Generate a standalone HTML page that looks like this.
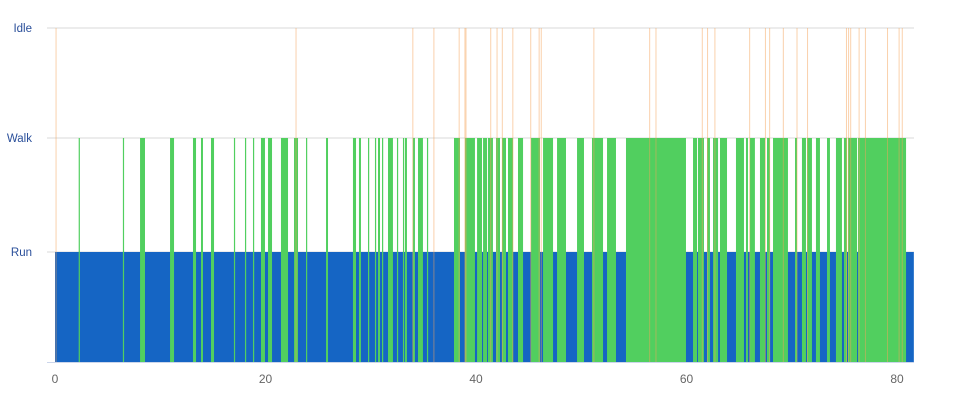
<!DOCTYPE html>
<html><head><meta charset="utf-8"><style>
html,body{margin:0;padding:0;background:#fff;width:956px;height:402px;overflow:hidden}
svg{display:block;font-family:"Liberation Sans",sans-serif}
</style></head><body>
<svg id="chart" width="956" height="402" viewBox="0 0 956 402" xmlns="http://www.w3.org/2000/svg">
<g id="grid"></g>
<g id="marks"></g>
<g id="axes"></g>
</svg>
<script>
const stateLabels = ["Run","Walk","Idle"];
const stateLevels = [1,2,3];
const xTicks = [0,20,40,60,80];
const runRange = [0,81.6];
const walkStarts = [2.25,6.45,8.08,10.93,13.11,13.87,14.82,17.0,18.05,18.81,19.57,20.24,21.47,22.71,23.85,25.75,28.31,28.88,29.74,30.4,30.69,31.07,31.64,32.49,33.06,33.25,34.0,34.49,35.34,37.91,38.95,40.1,40.67,41.14,41.9,42.47,43.04,43.99,45.23,46.37,47.7,49.6,51.02,52.45,54.25,60.62,61.09,61.95,62.52,63.18,64.7,65.65,66.03,66.98,67.65,68.22,70.31,70.97,71.45,72.3,73.35,74.2,74.96,75.34,76.29];
const walkEnds   = [2.35,6.55,8.55,11.31,13.40,14.06,15.11,17.1,18.15,18.91,19.95,20.62,22.14,23.09,23.95,25.94,28.6,29.07,29.83,30.5,30.88,31.16,32.11,32.59,33.16,33.44,34.2,34.96,35.44,38.48,39.9,40.57,41.05,41.61,42.28,42.85,43.52,44.47,46.08,47.32,48.55,50.26,52.07,53.3,59.95,61.0,61.66,62.23,63.0,63.85,65.46,65.84,66.5,67.46,67.93,69.64,70.5,71.35,71.92,72.68,73.63,74.77,75.25,76.2,80.86];
const idleTimes = [0.1,22.9,34.0,36.0,38.4,38.95,39.05,41.4,42.0,42.5,43.5,45.2,46.0,46.2,51.2,56.5,57.1,61.5,62.0,62.7,66.0,67.5,67.9,69.2,70.5,71.5,75.2,75.4,75.6,76.4,77.0,79.1,80.2,80.5];

const NS="http://www.w3.org/2000/svg";
const X0=55, XU=10.525, YB=362;
const levelY = {0:362,1:252,2:138,3:28};
function xs(t){return X0+t*XU;}
function ys(l){return levelY[l];}
function mk(tag,attrs,parent){const e=document.createElementNS(NS,tag);for(const k in attrs)e.setAttribute(k,attrs[k]);parent.appendChild(e);return e;}
const grid=document.getElementById('grid'),marks=document.getElementById('marks'),axes=document.getElementById('axes');

stateLevels.forEach((l,i)=>{
  const g=mk('line',{x1:47,x2:914,y1:ys(l),y2:ys(l),stroke:'#d8d8d8','stroke-width':1},grid);
  
  
  const t=mk('text',{x:32,y:ys(l)+4,'text-anchor':'end','font-size':11.5,fill:'#2a4f9a'},axes);
  t.textContent=stateLabels[i];
  
  
});
const bl=mk('line',{x1:47,x2:914,y1:YB+0.5,y2:YB+0.5,stroke:'#ccd6eb','stroke-width':1},grid);



const run=mk('rect',{x:xs(runRange[0]),y:ys(1),width:xs(runRange[1])-xs(runRange[0]),height:YB-ys(1),fill:'#1565c4'},marks);



walkStarts.forEach((s,i)=>{
  const w=Math.max(1.2,xs(walkEnds[i])-xs(s));
  const r=mk('rect',{x:xs(s),y:ys(2),width:w,height:YB-ys(2),fill:'#51cf5f'},marks);
  
  
});
idleTimes.forEach(t=>{
  const l=mk('line',{x1:xs(t),x2:xs(t),y1:ys(3),y2:YB,stroke:'#f5a35a','stroke-width':1,'stroke-opacity':0.5},marks);
  
  
});
xTicks.forEach(v=>{
  const t=mk('text',{x:xs(v),y:383,'text-anchor':'middle','font-size':12,fill:'#666'},axes);
  t.textContent=v;
  
  
});
</script>
</body></html>
